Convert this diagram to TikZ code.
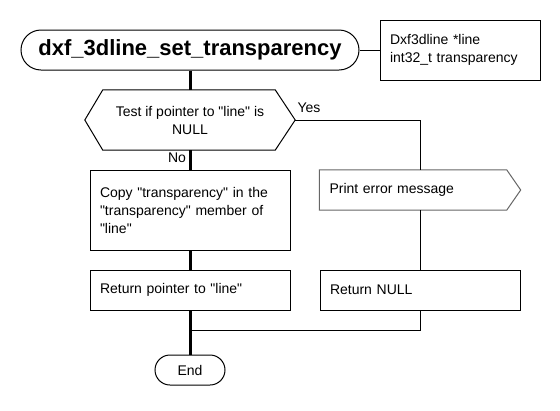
\documentclass[tikz,border=0pt]{standalone}
\usepackage{fontspec}
\setmainfont{Liberation Sans}[Ligatures=TeXOff]
\begin{document}
\begin{tikzpicture}[x=1pt,y=-1pt,
  every node/.style={font=\fontsize{14}{18}\selectfont, inner sep=0pt},
  box/.style={draw, line width=1pt, minimum width=200pt, text width=180pt, align=left},
  term/.style={draw, line width=1pt, rounded corners=#1, align=center},
  thick/.style={line width=3pt},
  thin/.style={line width=1pt},
  lbl/.style={font=\fontsize{14}{18}\selectfont}
]
\useasboundingbox (0,0) rectangle (560,410);
\node[term=20pt, minimum width=338pt, minimum height=40pt, font=\fontsize{22}{26}\selectfont\bfseries] (title) at (190,50) {dxf\_3dline\_set\_transparency};
\node[draw, line width=1pt, minimum width=160pt, minimum height=60pt, text width=140pt, align=left] (params) at (460,50) {Dxf3dline *line\\int32\_t transparency};
\node[minimum width=210pt, minimum height=60pt, align=center] (dec) at (190,120) {Test if pointer to "line" is\\NULL};
\draw[thin] (dec.west) -- ([xshift=18pt]dec.north west) -- ([xshift=-20pt]dec.north east) -- (dec.east) -- ([xshift=-20pt]dec.south east) -- ([xshift=18pt]dec.south west) -- cycle;
\node[box, minimum height=80pt] (copy) at (190,210) {Copy "transparency" in the\\"transparency" member of\\"line"};
\node[box, minimum height=40pt] (ret) at (190,290) {Return pointer to "line"};
\node[minimum width=201pt, minimum height=40pt, text width=181pt, align=left] (print) at (420,190) {Print error message};
\draw[line width=1pt, draw=black!60] (print.north west) -- ([xshift=-14pt]print.north east) -- (print.east) -- ([xshift=-14pt]print.south east) -- (print.south west) -- cycle;
\node[box, minimum height=40pt] (retnull) at (420,290) {Return NULL};
\node[term=15pt, minimum width=70pt, minimum height=30pt] (end) at (190,370) {End};
\coordinate (merge) at (190,330);
\draw[thin] (title.east) -- (params.west);
\draw[thick] (title) -- (dec);
\draw[thick] (dec) -- (copy);
\draw[thick] (copy) -- (ret);
\draw[thick] (ret) -- (end);
\draw[thin] (dec.east) -| (print.north);
\draw[thin] (print) -- (retnull);
\draw[thin] (retnull.south) |- (merge);
\node[lbl] (yes) at (309,108) {Yes};
\node[lbl] (no) at (177,158) {No};
\end{tikzpicture}
\end{document}
